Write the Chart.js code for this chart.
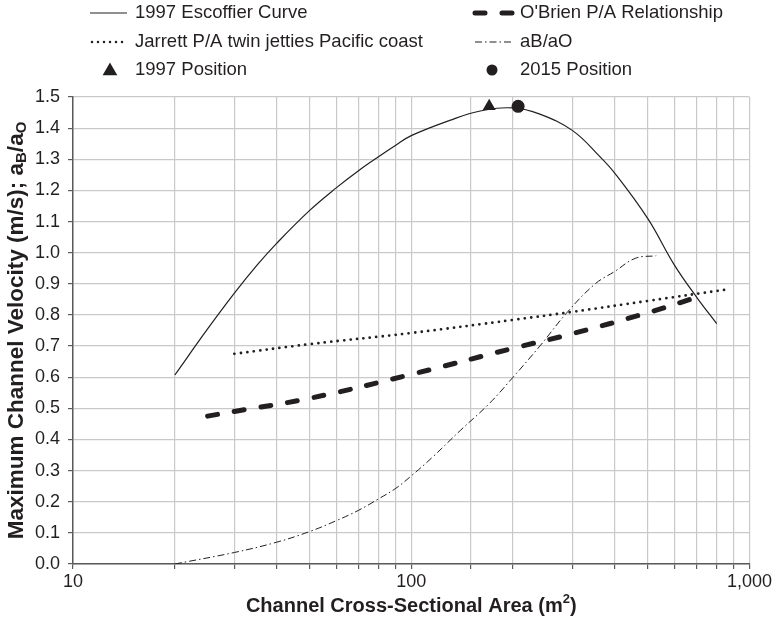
<!DOCTYPE html>
<html>
<head>
<meta charset="utf-8">
<script src="https://cdn.jsdelivr.net/npm/chart.js@4.4.1/dist/chart.umd.min.js"></script>
<style>
  html, body { margin: 0; padding: 0; background: #ffffff; }
  #wrap { position: relative; width: 774px; height: 620px; }
</style>
</head>
<body>
<div id="wrap"><canvas id="c" width="774" height="620"></canvas></div>
<script>
// ---- Data ----
const escoffierArea = [20, 25, 30, 35, 40, 50, 60, 70, 80, 90, 100, 130, 160, 200, 240, 300, 360, 400, 500, 600, 700, 800];
const escoffierVel  = [0.607, 0.755, 0.870, 0.960, 1.030, 1.135, 1.208, 1.264, 1.308, 1.345, 1.376, 1.425, 1.455, 1.465, 1.445, 1.392, 1.31, 1.255, 1.11, 0.96, 0.855, 0.772];

const jarrettArea = [30, 50, 100, 200, 300, 500, 860];
const jarrettVel  = [0.675, 0.706, 0.742, 0.784, 0.81, 0.845, 0.882];

const obrienArea = [25, 30, 50, 100, 200, 300, 500, 700];
const obrienVel  = [0.475, 0.49, 0.532, 0.609, 0.693, 0.74, 0.807, 0.857];

const ratioArea = [20, 30, 40, 50, 60, 70, 80, 90, 100, 115, 140, 170, 200, 240, 290, 350, 400, 460, 530];
const ratioVal  = [0.0, 0.037, 0.07, 0.104, 0.139, 0.173, 0.209, 0.243, 0.283, 0.341, 0.43, 0.515, 0.6, 0.70, 0.81, 0.90, 0.94, 0.982, 0.99];

const pos1997 = [{ x: 170, y: 1.47 }];
const pos2015 = [{ x: 207, y: 1.47 }];

const seriesNames = ['1997 Escoffier Curve', "O'Brien P/A Relationship", 'Jarrett P/A twin jetties Pacific coast', 'aB/aO', '1997 Position', '2015 Position'];
const xTickLabels = { 10: '10', 100: '100', 1000: '1,000' };

const xy = (xs, ys) => xs.map((x, i) => ({ x: x, y: ys[i] }));

const FONT = "'Liberation Sans', Arial, Helvetica, sans-serif";
const INK = '#231f20';

// ---- custom legend & axis titles ----
const decorPlugin = {
  id: 'decor',
  afterDraw(chart) {
    const ctx = chart.ctx;
    ctx.save();
    ctx.fillStyle = INK;
    ctx.strokeStyle = INK;
    ctx.font = '18.5px ' + FONT;
    ctx.textBaseline = 'middle';
    ctx.textAlign = 'left';

    const rows = [13, 42, 70];
    const lx0 = 90, lx1 = 127, ltx = 135;
    const rx0 = 475, rx1 = 512, rtx = 520;

    // Escoffier
    ctx.lineWidth = 1; ctx.setLineDash([]);
    ctx.beginPath(); ctx.moveTo(lx0, rows[0]); ctx.lineTo(lx1, rows[0]); ctx.stroke();
    ctx.fillText(seriesNames[0], ltx, rows[0]);
    // Jarrett
    ctx.lineWidth = 2.5; ctx.lineCap = 'round'; ctx.setLineDash([0, 6]);
    ctx.beginPath(); ctx.moveTo(lx0 + 2, rows[1]); ctx.lineTo(lx1, rows[1]); ctx.stroke();
    ctx.fillText(seriesNames[2], ltx, rows[1]);
    // 1997 position triangle
    ctx.setLineDash([]); ctx.lineCap = 'butt';
    Chart.helpers.drawPoint(ctx, { pointStyle: 'triangle', radius: 6, borderWidth: 1 }, 110, rows[2] + 1);
    ctx.fill();
    ctx.fillText(seriesNames[4], ltx, rows[2]);

    // O'Brien
    ctx.lineWidth = 5; ctx.lineCap = 'round'; ctx.setLineDash([10, 17]);
    ctx.beginPath(); ctx.moveTo(rx0, rows[0]); ctx.lineTo(rx1, rows[0]); ctx.stroke();
    ctx.fillText(seriesNames[1], rtx, rows[0]);
    // aB/aO
    ctx.lineWidth = 1; ctx.lineCap = 'butt'; ctx.setLineDash([7, 3, 1.5, 3]);
    ctx.beginPath(); ctx.moveTo(rx0, rows[1]); ctx.lineTo(rx1, rows[1]); ctx.stroke();
    ctx.setLineDash([]);
    ctx.fillText(seriesNames[3], rtx, rows[1]);
    // 2015 position circle
    ctx.beginPath(); ctx.arc(492, rows[2], 5.5, 0, Math.PI * 2); ctx.fill();
    ctx.fillText(seriesNames[5], rtx, rows[2]);

    // X axis title with superscript
    const area = chart.chartArea;
    const xcx = (area.left + area.right) / 2;
    const xty = 606;
    const BIG = 20, SMALL = 13;
    const p1 = 'Channel Cross-Sectional Area (m';
    const sup = '2';
    const p2 = ')';
    ctx.font = 'bold ' + BIG + 'px ' + FONT; const w1 = ctx.measureText(p1).width; const w3 = ctx.measureText(p2).width;
    ctx.font = 'bold ' + SMALL + 'px ' + FONT; const w2 = ctx.measureText(sup).width;
    let sx = xcx - (w1 + w2 + w3) / 2;
    ctx.textAlign = 'left';
    ctx.font = 'bold ' + BIG + 'px ' + FONT; ctx.fillText(p1, sx, xty); sx += w1;
    ctx.font = 'bold ' + SMALL + 'px ' + FONT; ctx.fillText(sup, sx, xty - 7); sx += w2;
    ctx.font = 'bold ' + BIG + 'px ' + FONT; ctx.fillText(p2, sx, xty);

    // Y axis title with subscripts
    const ycy = (area.top + area.bottom) / 2;
    ctx.translate(17, ycy);
    ctx.rotate(-Math.PI / 2);
    const YB = 22.5, YS = 15;
    const parts = [
      ['Maximum Channel Velocity (m/s); a', YB, 0],
      ['B', YS, 5],
      ['/a', YB, 0],
      ['O', YS, 5]
    ];
    let total = 0;
    parts.forEach(p => { ctx.font = 'bold ' + p[1] + 'px ' + FONT; p.push(ctx.measureText(p[0]).width); total += p[3]; });
    let px = -total / 2;
    parts.forEach(p => {
      ctx.font = 'bold ' + p[1] + 'px ' + FONT;
      ctx.fillText(p[0], px, p[2]);
      px += p[3];
    });
    ctx.restore();
  }
};

const lineBase = {
  type: 'line',
  pointRadius: 0,
  pointHoverRadius: 0,
  fill: false,
  tension: 0.4,
  borderColor: INK,
  backgroundColor: INK
};

new Chart(document.getElementById('c'), {
  type: 'line',
  data: {
    datasets: [
      Object.assign({}, lineBase, { label: seriesNames[0], data: xy(escoffierArea, escoffierVel), borderWidth: 1.2 }),
      Object.assign({}, lineBase, { label: seriesNames[1], data: xy(obrienArea, obrienVel), borderWidth: 5, borderDash: [10, 17], borderCapStyle: 'round' }),
      Object.assign({}, lineBase, { label: seriesNames[2], data: xy(jarrettArea, jarrettVel), borderWidth: 2.8, borderDash: [0, 6.5], borderCapStyle: 'round' }),
      Object.assign({}, lineBase, { label: seriesNames[3], data: xy(ratioArea, ratioVal), borderWidth: 1, borderDash: [7, 3, 1.5, 3] }),
      { type: 'scatter', label: seriesNames[4], data: pos1997, showLine: false, pointStyle: 'triangle', pointRadius: 7.5, pointBorderWidth: 0, backgroundColor: INK, borderColor: INK },
      { type: 'scatter', label: seriesNames[5], data: pos2015, showLine: false, pointStyle: 'circle', pointRadius: 6.5, pointBorderWidth: 0, backgroundColor: INK, borderColor: INK }
    ]
  },
  options: {
    responsive: false,
    animation: false,
    events: [],
    layout: { padding: { top: 97, right: 22, left: 0, bottom: 0 } },
    plugins: { legend: { display: false }, tooltip: { enabled: false }, title: { display: false } },
    scales: {
      x: {
        type: 'logarithmic',
        min: 10, max: 1000,
        afterFit(s) { s.height = 56; },
        border: { display: true, color: '#5a5a5a', width: 1.5 },
        grid: { color: '#c9c9cc', lineWidth: 1.2, tickColor: '#5a5a5a', tickLength: 5, drawTicks: true },
        ticks: {
          autoSkip: false, maxRotation: 0, minRotation: 0, padding: 2,
          color: INK, font: { family: FONT, size: 18 },
          callback: (v) => (xTickLabels[v] !== undefined ? xTickLabels[v] : '')
        }
      },
      y: {
        type: 'linear',
        min: 0, max: 1.5,
        afterFit(s) { s.width = 73; },
        border: { display: true, color: '#5a5a5a', width: 1.5 },
        grid: { color: '#c9c9cc', lineWidth: 1.2, tickColor: '#5a5a5a', tickLength: 5, drawTicks: true },
        ticks: {
          stepSize: 0.1, padding: 8,
          color: INK, font: { family: FONT, size: 18 },
          callback: (v) => Number(v).toFixed(1)
        }
      }
    }
  },
  plugins: [decorPlugin]
});
</script>
</body>
</html>
